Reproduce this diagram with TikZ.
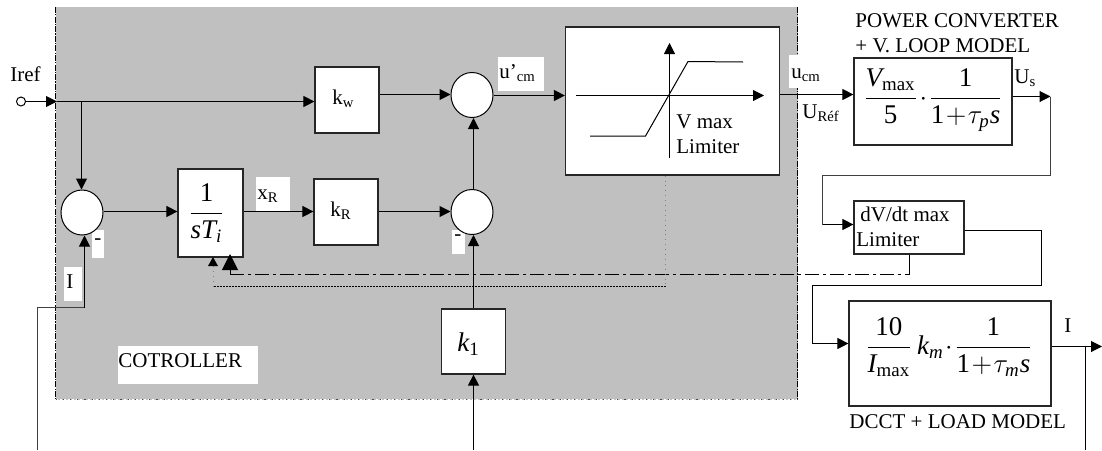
\documentclass[tikz,border=0pt]{standalone}
\usepackage{fix-cm}
\usepackage{amsmath}
\usepackage{fontspec}
\setmainfont{Liberation Serif}
\usetikzlibrary{arrows.meta,shapes.geometric}
\definecolor{ctrlgrey}{RGB}{192,192,192}
\newcommand{\mi}[1]{\text{\itshape #1}}
\newcommand{\mr}[1]{\text{\upshape #1}}
\newcommand{\bigmath}{\fontsize{13.5}{16}\selectfont}
\tikzset{
  x=0.5pt,y=-0.5pt,
  conn/.style={line width=0.5pt,draw=black},
  arr/.style={conn,-{Triangle[length=5.5pt,width=5.5pt]}},
  bigarr/.style={conn,-{Triangle[length=8pt,width=8pt]}},
  block/.style={draw=black!85,line width=0.6pt,fill=white,inner sep=0,rectangle},
  sumnode/.style={draw=black,line width=0.5pt,fill=white,ellipse,inner sep=0,minimum width=21pt,minimum height=22.5pt},
  txt/.style={inner sep=0,anchor=base west,font=\fontsize{10.5}{12}\selectfont},
  frac/.style={inner sep=0,anchor=base,font=\bigmath},
  patch/.style={fill=white},
}
\begin{document}
\begin{tikzpicture}
\useasboundingbox (0,0) rectangle (1102,450);
% controller background
\fill[ctrlgrey] (55.5,7) rectangle (797.5,399.5);
\draw[line width=0.4pt,dash pattern=on 3pt off 0.6pt on 0.6pt off 0.6pt] (55.5,7) -- (55.5,399.5);
\draw[line width=0.4pt,dash pattern=on 3pt off 0.6pt on 0.6pt off 0.6pt] (797.5,7) -- (797.5,399.5);
\draw[line width=0.4pt,white,dash pattern=on 1pt off 1pt] (55.5,399.5) -- (797.5,399.5);
\draw[line width=0.3pt,black!70,dash pattern=on 0.6pt off 3pt] (55.5,399.5) -- (797.5,399.5);
% white label patches
\fill[patch] (256,177) rectangle (290,211);
\fill[patch] (498,57) rectangle (544,91);
\fill[patch] (789,55) rectangle (820,88);
\fill[patch] (118,346) rectangle (258,384);
\fill[patch] (64,267) rectangle (82,301);
\fill[patch] (92,230) rectangle (104,258);
\fill[patch] (452,230) rectangle (465,254);
% blocks
\node[block,minimum width=32pt,minimum height=33pt] (kw) at (347,100) {};
\node[block,minimum width=32pt,minimum height=33pt] (kr) at (346,212) {};
\node[block,minimum width=32.5pt,minimum height=44pt] (integ) at (210.5,213) {};
\node[block,minimum width=107pt,minimum height=74pt] (lim) at (672.5,101) {};
\node[block,minimum width=32pt,minimum height=32.5pt] (kone) at (473.5,341.5) {};
\node[block,minimum width=79pt,minimum height=43.5pt] (pow) at (933,101.5) {};
\node[block,minimum width=55pt,minimum height=26.5pt] (dvdt) at (909,227.5) {};
\node[block,minimum width=101pt,minimum height=52.5pt] (load) at (950,353.5) {};
% summing junctions
\node[sumnode] (sumA) at (82,212.5) {};
\node[sumnode] (sumB) at (472,95) {};
\node[sumnode] (sumC) at (472,212) {};
% free ends
\node[draw=black,line width=0.5pt,fill=white,circle,inner sep=0,minimum size=4.5pt] (iref) at (21,101.5) {};
\coordinate (tap) at (81.5,101.5);
\coordinate (entry) at (57,101.5);
\coordinate (fbStart) at (37.5,450);
\coordinate (fbCorner) at (84.5,307.5);
\coordinate (kStart) at (473.5,450);
\coordinate (usEnd) at (1050.5,96.5);
\coordinate (dvIn) at (822.5,224.5);
\coordinate (outEnd) at (1102,346.5);
\coordinate (branch) at (1085.5,346.5);
\coordinate (branchEnd) at (1085.5,450);
% connectors
\draw[arr] (iref.east) -- (entry);
\draw[arr] (entry) -- (kw.west |- entry);
\draw[arr] (tap) -- (tap |- sumA.north);
\draw[arr] (sumA.east |- 0,211.5) -- (integ.west |- 0,211.5);
\draw[arr] (integ.east |- 0,211.5) -- (kr.west |- 0,211.5);
\draw[arr] (kr.east |- 0,211.5) -- (sumC.west |- 0,211.5);
\draw[arr] (kw.east |- 0,94.5) -- (sumB.west |- 0,94.5);
\draw[arr] (kone.north |- sumC.north) -- (kone.north |- sumB.south);
\draw[arr] (sumB.east |- 0,95.5) -- (lim.west |- 0,95.5);
\draw[arr] (kone.north) -- (kone.north |- sumC.south);
\draw[arr] (kStart) -- (kone.south);
\draw[arr] (lim.east |- 0,94.5) -- (pow.west |- 0,94.5);
\draw[arr] (pow.east |- usEnd) -- (usEnd);
\draw[conn,draw=black!75] (usEnd) -- (1050.5,175.5) -- (822.5,175.5) -- (dvIn);
\draw[arr] (dvIn) -- (dvdt.west |- dvIn);
\coordinate (loadTurn) at (812.5,343.5);
\draw[conn] (dvdt.east |- 0,230.5) -- (1041.5,230.5) -- (1041.5,285.5) -- (812.5,285.5) -- (loadTurn);
\draw[arr] (loadTurn) -- (load.west |- loadTurn);
\draw[arr] (load.east |- outEnd) -- (outEnd);
\draw[conn] (branch) -- (branchEnd);
\draw[conn,draw=black!75] (fbStart) -- (fbCorner -| fbStart) -- (fbCorner);
\draw[arr] (fbCorner) -- (fbCorner |- sumA.south);
% feedback from dV/dt limiter (dash-dot) and V max limiter (dotted)
\coordinate (dvDrop) at (909.5,274.5);
\coordinate (bigHook) at (230,274.5);
\draw[conn] (dvdt.south -| dvDrop) -- (dvDrop);
\draw[line width=0.65pt,dash pattern=on 7pt off 2pt on 1.5pt off 2pt] (bigHook) -- (dvDrop);
\draw[bigarr] (bigHook) -- (230,254);
\coordinate (limDrop) at (665.5,286.5);
\coordinate (smallHook) at (213,286.5);
\draw[line width=0.45pt,black!50,dotted] (lim.south -| limDrop) -- (limDrop);
\draw[line width=0.5pt,dash pattern=on 1pt off 0.5pt] (limDrop) -- (smallHook);
\draw[line width=0.5pt,black!50,dotted] (smallHook) -- (213,266);
\fill (213,257) -- (218,266) -- (208,266) -- cycle;
% limiter characteristic
\coordinate (axL) at (576,95.5);
\coordinate (axR) at (764,95.5);
\coordinate (axB) at (669.5,158);
\coordinate (axT) at (669.5,43);
\draw[arr] (axL) -- (axR);
\draw[arr] (axB) -- (axT);
\draw[conn] (590,136) -- (645.5,136) -- (688,61.5) -- (743,62);
% labels
\node[txt] (tIref) at (10,81) {Iref};
\node[txt] (tKw) at (332,104) {k\textsubscript{w}};
\node[txt] (tKr) at (330,216) {k\textsubscript{R}};
\node[txt] (tXr) at (257,199) {x\textsubscript{R}};
\node[txt] (tUp) at (499,78) {u’\textsubscript{cm}};
\node[txt] (tUcm) at (791,78) {u\textsubscript{cm}};
\node[txt] (tUref) at (802,118) {U\textsubscript{Réf}};
\node[txt] (tUs) at (1014,83) {U\textsubscript{s}};
\node[txt] (tVmax) at (676,128) {V max};
\node[txt] (tLimA) at (676,153) {Limiter};
\node[txt] (tPowA) at (855,27) {POWER CONVERTER};
\node[txt] (tPowB) at (855,52) {+ V. LOOP MODEL};
\node[txt] (tDvA) at (860,221) {dV/dt max};
\node[txt] (tDvB) at (856,246) {Limiter};
\node[txt] (tI) at (1064,332) {I};
\node[txt] (tFb) at (66,288) {I};
\node[txt] (tLoad) at (849,428) {DCCT + LOAD MODEL};
\node[txt] (tCtrl) at (118,367) {COTROLLER};
\node[txt] (tMinA) at (94,244) {-};
\node[txt] (tMinB) at (454,240) {-};
\node[inner sep=0,anchor=base west,font=\bigmath] (tKone) at (457,351) {$\mi{k}_{\mr{1}}$};
% formulas
\node[frac] (fInt) at (206.5,220) {$\displaystyle\frac{\mr{1}}{\mi{s}\mi{T}_{\mi{i}}}$};
\node[frac] (fPow) at (933,105) {$\displaystyle\frac{\mi{V}_{\mr{max}}}{\mr{5}}\!\cdot\!\frac{\mr{1}}{\mr{1}\!+\!\tau_{\mi{p}}\mi{s}}$};
\node[frac] (fLoad) at (949,354) {$\displaystyle\frac{\mr{10}}{\mi{I}_{\mr{max}}}\,\mi{k}_{\mi{m}}\!\cdot\!\frac{\mr{1}}{\mr{1}\!+\!\tau_{\mi{m}}\mi{s}}$};
\end{tikzpicture}
\end{document}
